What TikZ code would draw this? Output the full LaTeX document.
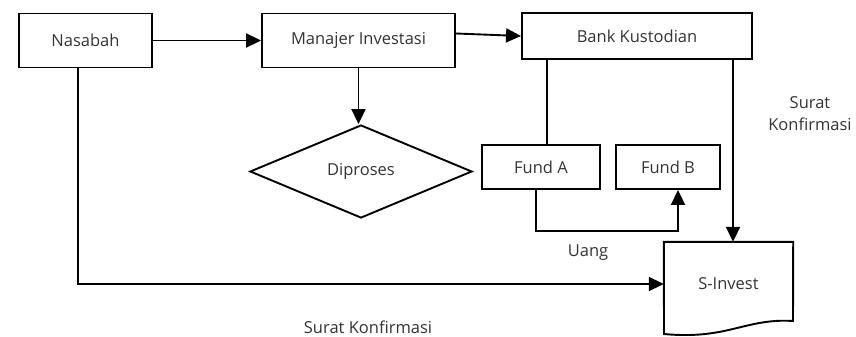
\documentclass[tikz,border=0pt]{standalone}
\usepackage{fontspec}
\setmainfont{Open Sans}
\usetikzlibrary{shapes.geometric,arrows.meta,calc}
\definecolor{txt}{gray}{0.2}
\tikzset{
  box/.style={draw=black, line width=1.9pt, rectangle, inner sep=0pt, text=txt},
  lbl/.style={text=txt, inner sep=0pt, align=center},
  conn/.style={draw=black, line width=1.9pt},
  arr/.style={conn, -{Triangle[length=15pt,width=14pt]}},
}
\begin{document}
\begin{tikzpicture}[x=1pt,y=-1pt, font=\fontsize{16.5}{22}\selectfont]
\useasboundingbox (0,0) rectangle (856,337);
\node[box, minimum width=133pt, minimum height=54pt] (nas) at (85.5,40.5) {Nasabah};
\node[box, minimum width=193pt, minimum height=54pt] (mi) at (358.5,40.5) {Manajer Investasi};
\node[box, minimum width=230pt, minimum height=46pt] (bk) at (637,36) {Bank Kustodian};
\node[box, diamond, minimum width=222pt, minimum height=93pt] (dip) at (361,171.5) {Diproses};
\node[box, minimum width=118pt, minimum height=44pt] (fa) at (541,167) {Fund A};
\node[box, minimum width=104pt, minimum height=44pt] (fb) at (668,167) {Fund B};
\node[lbl, minimum width=129pt, minimum height=84pt] (si) at (728.5,284) {S-Invest};
\draw[conn, line join=miter] (si.north west) -- (si.north east) -- (793,321)
  .. controls (745,318) and (728,340) .. (664,334) -- cycle;
\node[lbl] (uang) at (588,253) {Uang};
\node[lbl] (sk1) at (368,327) {Surat Konfirmasi};
\node[lbl] (sk2) at (810,114) {Surat\\Konfirmasi};
\draw[arr] (nas.east) -- (mi.west);
\draw[arr] ([yshift=7pt]mi.east) -- (bk.west);
\draw[arr] (mi.south) -- (mi.south |- dip.north);
\draw[conn] ([xshift=6pt]fa.north |- bk.south) -- ([xshift=6pt]fa.north);
\draw[arr] ([xshift=4.5pt]si.north |- bk.south) -- ([xshift=4.5pt]si.north);
\draw[arr] ([xshift=-5pt]fa.south) -- ++(0,41) -| ([xshift=10pt]fb.south);
\draw[arr] ([xshift=-7.5pt]nas.south) |- (si.west);
\end{tikzpicture}
\end{document}
